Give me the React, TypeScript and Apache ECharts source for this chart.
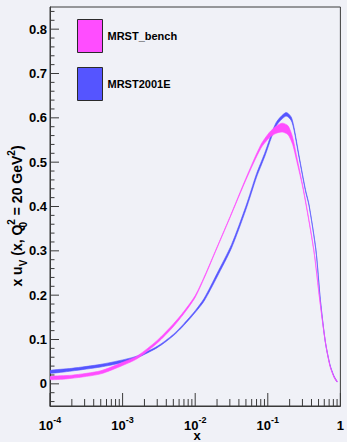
import React, { useEffect, useRef } from 'react';
import * as echarts from 'echarts';

const FONT = '"Liberation Sans", Arial, Helvetica, sans-serif';
const PINK = '#ff4dff';
const BLUE = '#5555ff';
const BG = '#f0f1f7';
const AXIS = '#3a3a3a';

const seriesNames = ['MRST_bench', 'MRST2001E'];

// MRST_bench: x, central value, half band width
const benchX = [1e-4, 2e-4, 5e-4, 1e-3, 1.6e-3, 3e-3, 5e-3, 7e-3, 1e-2, 1.4e-2, 1.8e-2, 3e-2, 5e-2, 8e-2, 0.105, 0.13, 0.158, 0.19, 0.22, 0.25, 0.31, 0.43, 0.52, 0.62, 0.72, 0.82, 0.9];
const benchY = [0.013, 0.016, 0.026, 0.045, 0.06, 0.095, 0.132, 0.161, 0.197, 0.248, 0.29, 0.375, 0.462, 0.535, 0.561, 0.573, 0.578, 0.572, 0.548, 0.508, 0.437, 0.302, 0.189, 0.095, 0.04, 0.015, 0.005];
const benchErr = [0.0035, 0.0035, 0.0035, 0.0035, 0.003, 0.003, 0.003, 0.0025, 0.002, 0.0015, 0.0012, 0.0012, 0.002, 0.004, 0.006, 0.008, 0.01, 0.01, 0.008, 0.005, 0.002, 0.0012, 0.0012, 0.001, 0.001, 0.001, 0.001];

// MRST2001E
const e2001X = [1e-4, 2e-4, 5e-4, 1e-3, 1.6e-3, 3e-3, 5e-3, 7e-3, 1e-2, 1.33e-2, 2e-2, 3.16e-2, 5e-2, 7e-2, 9e-2, 0.13, 0.178, 0.21, 0.23, 0.27, 0.33, 0.37, 0.46, 0.53, 0.62, 0.72, 0.82, 0.9];
const e2001Y = [0.027, 0.032, 0.041, 0.051, 0.061, 0.083, 0.11, 0.134, 0.163, 0.19, 0.245, 0.31, 0.397, 0.47, 0.515, 0.585, 0.608, 0.598, 0.575, 0.512, 0.437, 0.403, 0.302, 0.189, 0.095, 0.042, 0.016, 0.005];
const e2001Err = [0.003, 0.003, 0.003, 0.003, 0.002, 0.0015, 0.0015, 0.0018, 0.002, 0.003, 0.004, 0.004, 0.004, 0.004, 0.004, 0.004, 0.004, 0.004, 0.003, 0.002, 0.0015, 0.0012, 0.0012, 0.001, 0.001, 0.001, 0.001, 0.001];

const yTickValues = [0, 0.1, 0.2, 0.3, 0.4, 0.5, 0.6, 0.7, 0.8];
const yMinorTicks = [-0.04, -0.02, 0.02, 0.04, 0.06, 0.08, 0.12, 0.14, 0.16, 0.18, 0.22, 0.24, 0.26, 0.28, 0.32, 0.34, 0.36, 0.38, 0.42, 0.44, 0.46, 0.48, 0.52, 0.54, 0.56, 0.58, 0.62, 0.64, 0.66, 0.68, 0.72, 0.74, 0.76, 0.78, 0.82, 0.84];
const xMajorTicks = [1e-4, 1e-3, 1e-2, 1e-1, 1];
const xDecades = [1e-4, 1e-3, 1e-2, 1e-1];
const xMantissas = [2, 3, 4, 5, 6, 7, 8, 9];

const X_MIN = 1e-4;
const X_MAX = 1;
const Y_MIN = -0.05;
const Y_MAX = 0.85;

function bandSeries(name: string, color: string, xs: number[], ys: number[], errs: number[], z: number) {
  return {
    type: 'custom', name, silent: true, z, clip: true,
    itemStyle: { color },
    data: xs.map((x, i) => [x, ys[i]]),
    renderItem: (params: any, api: any) => {
      if (params.dataIndex !== 0) return null;
      const upper = xs.map((x, i) => api.coord([x, ys[i] + errs[i]]));
      const lower = xs.map((x, i) => api.coord([x, ys[i] - errs[i]])).reverse();
      return {
        type: 'polygon',
        shape: { points: upper.concat(lower), smooth: 0.25 },
        style: { fill: color, stroke: color, lineWidth: 0.6 },
      };
    },
  };
}

function tickSeries(name: string, data: number[][], render: (cs: any, p: number[]) => any) {
  return {
    type: 'custom', name, silent: true, clip: false, z: 6, data,
    renderItem: (params: any, api: any) => {
      const p = api.coord([api.value(0), api.value(1)]);
      const shape = render(params.coordSys, p);
      return { type: 'line', shape, style: { stroke: AXIS, lineWidth: 1 } };
    },
  };
}

export default function App() {
  const ref = useRef<HTMLDivElement>(null);
  useEffect(() => {
    if (!ref.current) return;
    const chart = echarts.init(ref.current, null, { renderer: 'svg' });
    const xMinor: number[][] = [];
    xDecades.forEach((d) => xMantissas.forEach((m) => xMinor.push([m * d, 0])));
    const option: any = {
      animation: false,
      backgroundColor: BG,
      grid: { left: 50, right: 4, top: 7, bottom: 36, show: true, borderColor: AXIS, borderWidth: 1, backgroundColor: BG },
      legend: {
        data: seriesNames, orient: 'vertical', left: 77, top: 19, padding: 0,
        itemWidth: 25, itemHeight: 33, itemGap: 14, icon: 'rect', selectedMode: false,
        itemStyle: { borderColor: '#2a2a2a', borderWidth: 1 },
        textStyle: { fontFamily: FONT, fontWeight: 'bold', fontSize: 11, color: '#000' },
      },
      xAxis: {
        type: 'log', logBase: 10, min: X_MIN, max: X_MAX,
        axisLine: { show: true, onZero: false, lineStyle: { color: AXIS, width: 1 } },
        axisTick: { show: false },
        splitLine: { show: false },
        axisLabel: {
          margin: 9,
          formatter: (v: number) => {
            const e = Math.round(Math.log10(v));
            return e === 0 ? '{b|1}' : '{b|10}{s|' + e + '}';
          },
          rich: {
            b: { fontFamily: FONT, fontWeight: 'bold', fontSize: 13, color: '#000', lineHeight: 20 },
            s: { fontFamily: FONT, fontWeight: 'bold', fontSize: 9, color: '#000', verticalAlign: 'top' },
          },
        },
      },
      yAxis: {
        type: 'value', min: Y_MIN, max: Y_MAX, splitNumber: 9,
        axisLine: { show: true, onZero: false, lineStyle: { color: AXIS, width: 1 } },
        axisTick: { show: false },
        splitLine: { show: false },
        axisLabel: {
          customValues: yTickValues, margin: 3,
          fontFamily: FONT, fontWeight: 'bold', fontSize: 13, color: '#000',
          formatter: (v: number) => (Math.round(v * 10) / 10).toString(),
        },
      },
      series: [
        bandSeries(seriesNames[1], BLUE, e2001X, e2001Y, e2001Err, 2),
        bandSeries(seriesNames[0], PINK, benchX, benchY, benchErr, 3),
        tickSeries('xmajor', xMajorTicks.map((v) => [v, 0]), (cs, p) => ({ x1: p[0], y1: cs.y + cs.height, x2: p[0], y2: cs.y + cs.height - 13 })),
        tickSeries('xminor', xMinor, (cs, p) => ({ x1: p[0], y1: cs.y + cs.height, x2: p[0], y2: cs.y + cs.height - 7 })),
        tickSeries('ymajor', yTickValues.map((v) => [X_MIN, v]), (cs, p) => ({ x1: cs.x, y1: p[1], x2: cs.x + 9, y2: p[1] })),
        tickSeries('yminor', yMinorTicks.map((v) => [X_MIN, v]), (cs, p) => ({ x1: cs.x, y1: p[1], x2: cs.x + 4.5, y2: p[1] })),
      ],
      graphic: [
        {
          type: 'text', x: 17, y: 216, rotation: Math.PI / 2,
          style: {
            text: '{m|x u}{sub|V}{m| (x, Q}{z|0}{sup|2}{m| = 20 GeV}{sup|2}{m|)}',
            align: 'center', verticalAlign: 'middle',
            rich: {
              m: { fontFamily: FONT, fontWeight: 'bold', fontSize: 14, fill: '#000', lineHeight: 22 },
              sub: { fontFamily: FONT, fontWeight: 'bold', fontSize: 10, fill: '#000', verticalAlign: 'bottom' },
              z: { fontFamily: FONT, fontWeight: 'bold', fontSize: 10, fill: '#000', verticalAlign: 'bottom', width: 0 },
              sup: { fontFamily: FONT, fontWeight: 'bold', fontSize: 10, fill: '#000', verticalAlign: 'top' },
            },
          },
        },
        {
          type: 'text', x: 197, y: 435.5, style: { text: 'x', fontFamily: FONT, fontWeight: 'bold', fontSize: 13, fill: '#000', align: 'center', verticalAlign: 'middle' },
        },
      ],
    };
    chart.setOption(option);
    return () => chart.dispose();
  }, []);
  return <div ref={ref} style={{ position: 'fixed', left: 0, top: 0, width: 347, height: 442 }} />;
}
